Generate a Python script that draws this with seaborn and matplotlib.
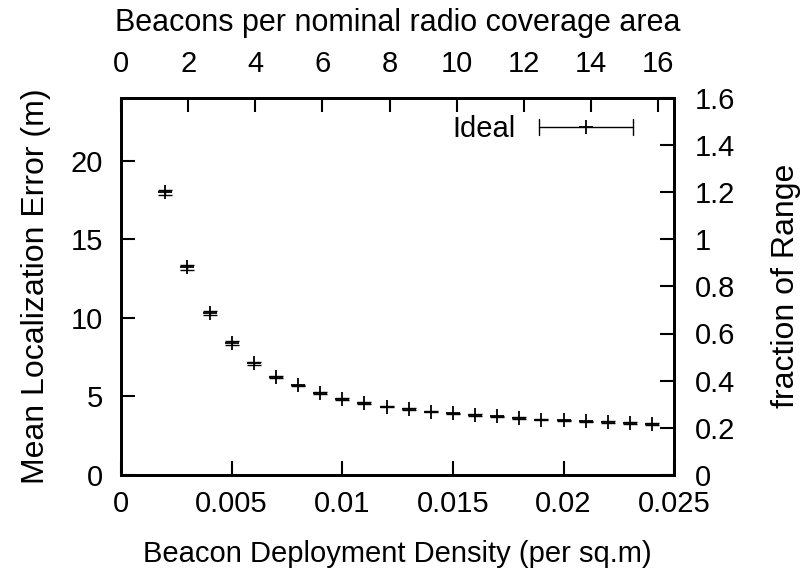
import numpy as np
import pandas as pd
import matplotlib
matplotlib.use("Agg")
import matplotlib.pyplot as plt
import seaborn as sns
from matplotlib.legend_handler import HandlerBase
from matplotlib.lines import Line2D

# Beacon deployment density (per sq.m) and mean localization error (m)
density = [0.002, 0.003, 0.004, 0.005, 0.006, 0.007, 0.008, 0.009, 0.010,
           0.011, 0.012, 0.013, 0.014, 0.015, 0.016, 0.017, 0.018, 0.019,
           0.020, 0.021, 0.022, 0.023, 0.024]
mean_error = [18.0, 13.2, 10.3, 8.4, 7.1, 6.25, 5.7, 5.2, 4.85,
              4.58, 4.35, 4.18, 4.03, 3.92, 3.82, 3.72, 3.62, 3.52,
              3.47, 3.41, 3.36, 3.3, 3.25]
error_bar = [0.16, 0.15, 0.12, 0.1, 0.08, 0.06, 0.05, 0.05, 0.05,
             0.05, 0.05, 0.05, 0.05, 0.05, 0.05, 0.05, 0.05, 0.05,
             0.05, 0.05, 0.05, 0.05, 0.05]

bottom_ticks = [0, 0.005, 0.01, 0.015, 0.02, 0.025]
bottom_labels = ["0", "0.005", "0.01", "0.015", "0.02", "0.025"]
left_ticks = [0, 5, 10, 15, 20]
right_ticks = [0, 0.2, 0.4, 0.6, 0.8, 1.0, 1.2, 1.4, 1.6]
right_labels = ["0", "0.2", "0.4", "0.6", "0.8", "1", "1.2", "1.4", "1.6"]
top_ticks = [0, 2, 4, 6, 8, 10, 12, 14, 16]

radio_range = 15.0          # metres; right axis is error / range
coverage_area = 659.0       # sq.m per nominal radio coverage area

df = pd.DataFrame({"density": density, "error": mean_error, "err": error_bar})

sns.set_theme(style="white")
plt.rcParams["font.family"] = ["Liberation Sans", "DejaVu Sans"]
plt.rcParams["axes.edgecolor"] = "black"
plt.rcParams["axes.linewidth"] = 1.8
plt.rcParams["xtick.color"] = "black"
plt.rcParams["ytick.color"] = "black"
plt.rcParams["text.color"] = "black"
plt.rcParams["axes.labelcolor"] = "black"

FS = 21

fig = plt.figure(figsize=(8.04, 5.75), dpi=100)
ax = fig.add_axes([0.1505, 0.174, 0.688, 0.656])

ax.errorbar(df["density"], df["error"], yerr=df["err"], fmt="none",
            ecolor="black", elinewidth=1.0, capsize=5, capthick=1.0, zorder=2)
sns.scatterplot(data=df, x="density", y="error", marker="+", s=110,
                color="black", linewidth=1.3, ax=ax, zorder=3, legend=False)

ax.set_xlim(0, 0.025)
ax.set_ylim(0, 24)
ax.set_xticks(bottom_ticks)
ax.set_xticklabels(bottom_labels)
ax.set_yticks(left_ticks)
ax.set_yticklabels([str(t) for t in left_ticks])
ax.tick_params(axis="both", direction="in", length=10, width=1.5,
               labelsize=FS, pad=11)
ax.tick_params(axis="y", pad=13)
ax.set_xlabel("Beacon Deployment Density (per sq.m)", fontsize=FS, labelpad=16)
ax.set_ylabel("Mean Localization Error (m)", fontsize=23, labelpad=14)

# Right axis: error as a fraction of the radio range
ax_r = ax.twinx()
ax_r.set_ylim(0, 24 / radio_range)
ax_r.set_yticks(right_ticks)
ax_r.set_yticklabels(right_labels)
ax_r.tick_params(axis="y", direction="in", length=10, width=1.5,
                 labelsize=FS, pad=15)
ax_r.set_ylabel("fraction of Range", fontsize=23, labelpad=26)
ax_r.grid(False)

# Top axis: beacons per nominal radio coverage area
ax_t = ax.twiny()
ax_t.set_xlim(0, 0.025 * coverage_area)
ax_t.set_xticks(top_ticks)
ax_t.set_xticklabels([str(t) for t in top_ticks])
ax_t.tick_params(axis="x", direction="in", length=10, width=1.5,
                 labelsize=FS, pad=14)
ax_t.set_xlabel("Beacons per nominal radio coverage area", fontsize=22,
                labelpad=14)
ax_t.grid(False)
ax.grid(False)


class ErrorbarKeyHandler(HandlerBase):
    """Horizontal line with end caps and a centred plus sign."""

    def create_artists(self, legend, orig_handle, xdescent, ydescent,
                       width, height, fontsize, trans):
        y = height / 2 - ydescent
        x0, x1 = -xdescent, width - xdescent
        cap = height * 0.38
        line = Line2D([x0, x1], [y, y], color="black", lw=1.0)
        left_cap = Line2D([x0, x0], [y - cap, y + cap], color="black", lw=1.0)
        right_cap = Line2D([x1, x1], [y - cap, y + cap], color="black", lw=1.0)
        plus = Line2D([(x0 + x1) / 2], [y], color="black", marker="+",
                      markersize=10, markeredgewidth=1.3, linestyle="none")
        arts = [line, left_cap, right_cap, plus]
        for a in arts:
            a.set_transform(trans)
        return arts


key = Line2D([], [], color="black")
ax_t.legend([key], ["Ideal"], handler_map={Line2D: ErrorbarKeyHandler()},
            loc="upper right", bbox_to_anchor=(0.946, 0.985), frameon=False,
            markerfirst=False, fontsize=FS, handlelength=3.2,
            handletextpad=0.8, borderaxespad=0)

for spine in ax.spines.values():
    spine.set_linewidth(1.8)

fig.savefig("out.png", dpi=100)
